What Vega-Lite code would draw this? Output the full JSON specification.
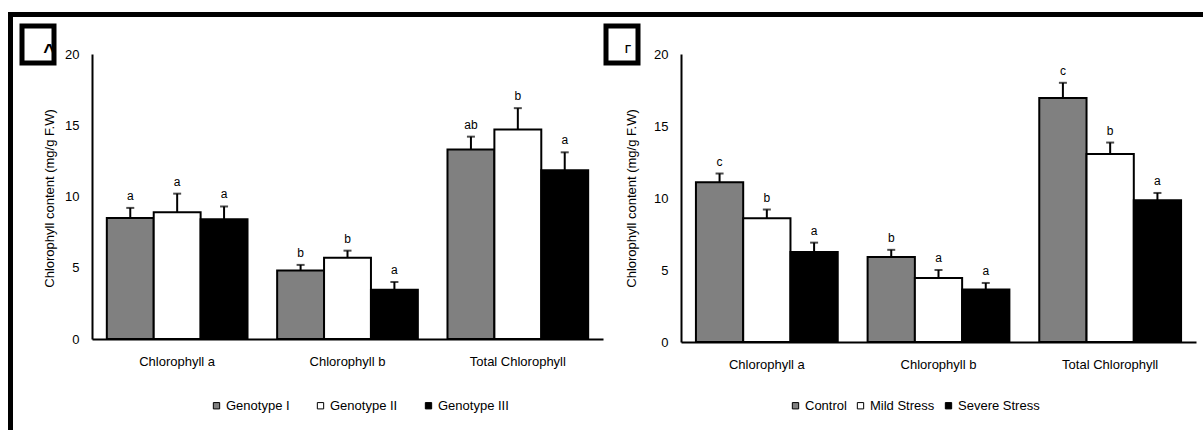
{
  "$schema": "https://vega.github.io/schema/vega-lite/v6.json",
  "background": "white",
  "padding": {"left": 8, "top": 12, "right": 0, "bottom": 0},
  "config": {
    "view": {"stroke": null},
    "font": "Liberation Sans",
    "text": {"color": "black"}
  },
  "spacing": 0,
  "resolve": {"scale": {"fill": "independent", "xOffset": "independent"}, "legend": {"fill": "independent"}},
  "hconcat": [
    {
      "width": 5, "height": 418,
      "view": {"fill": "black", "stroke": null},
      "data": {"values": []},
      "mark": "rect",
      "encoding": {}
    },
    {
      "spacing": 6,
      "resolve": {"scale": {"fill": "independent", "xOffset": "independent"}, "legend": {"fill": "independent"}},
      "vconcat": [
        {
          "width": 1190, "height": 5,
          "view": {"fill": "black", "stroke": null},
          "data": {"values": []},
          "mark": "rect",
          "encoding": {}
        },
        {
          "spacing": 0,
          "resolve": {"scale": {"fill": "independent", "xOffset": "independent"}, "legend": {"fill": "independent"}},
          "hconcat": [
            {"width": 6, "height": 1, "data": {"values": []}, "mark": "rect", "encoding": {}},
            {
              "spacing": 0,
              "vconcat": [
                {
                  "width": 32, "height": 37,
                  "view": {"stroke": "black", "strokeWidth": 5, "fill": "white"},
                  "data": {"values": [{"t": "^"}]},
                  "mark": {"type": "text", "fontSize": 20, "fontWeight": "bold", "dx": 11, "dy": 7, "color": "black"},
                  "encoding": {"text": {"field": "t"}}
                },
                {
                  "width": 37, "height": 265,
                  "data": {"values": [{"t": "Chlorophyll content (mg/g F.W)"}]},
                  "mark": {"type": "text", "angle": 270, "fontSize": 13, "dy": 9, "color": "black"},
                  "encoding": {"text": {"field": "t"}}
                }
              ]
            },
            {"width": 4.5, "height": 1, "data": {"values": []}, "mark": "rect", "encoding": {}},
            {
              "spacing": 0,
              "resolve": {"scale": {"fill": "independent", "xOffset": "independent"}, "legend": {"fill": "independent"}},
              "vconcat": [
                {"width": 1, "height": 22, "data": {"values": []}, "mark": "rect", "encoding": {}},
                {
                  "width": 511, "height": 285,
                  "data": {"values": [
                    {"pigment": "Chlorophyll a", "group": "Genotype I", "mean": 8.5, "hi": 9.2, "sig": "a"},
                    {"pigment": "Chlorophyll a", "group": "Genotype II", "mean": 8.9, "hi": 10.2, "sig": "a"},
                    {"pigment": "Chlorophyll a", "group": "Genotype III", "mean": 8.4, "hi": 9.3, "sig": "a"},
                    {"pigment": "Chlorophyll b", "group": "Genotype I", "mean": 4.8, "hi": 5.2, "sig": "b"},
                    {"pigment": "Chlorophyll b", "group": "Genotype II", "mean": 5.7, "hi": 6.2, "sig": "b"},
                    {"pigment": "Chlorophyll b", "group": "Genotype III", "mean": 3.45, "hi": 4.0, "sig": "a"},
                    {"pigment": "Total Chlorophyll", "group": "Genotype I", "mean": 13.3, "hi": 14.2, "sig": "ab"},
                    {"pigment": "Total Chlorophyll", "group": "Genotype II", "mean": 14.7, "hi": 16.2, "sig": "b"},
                    {"pigment": "Total Chlorophyll", "group": "Genotype III", "mean": 11.85, "hi": 13.1, "sig": "a"}
                  ]},
                  "encoding": {
                    "x": {
                      "field": "pigment", "type": "nominal",
                      "scale": {"type": "band", "domain": ["Chlorophyll a", "Chlorophyll b", "Total Chlorophyll"], "paddingInner": 0.174, "paddingOuter": 0.087},
                      "axis": {"title": null, "labelAngle": 0, "ticks": false, "labelPadding": 16, "labelFontSize": 13, "labelColor": "black", "domainColor": "black", "domainWidth": 2}
                    },
                    "xOffset": {
                      "field": "group", "type": "nominal",
                      "scale": {"type": "band", "domain": ["Genotype I", "Genotype II", "Genotype III"], "paddingInner": 0, "paddingOuter": 0}
                    }
                  },
                  "layer": [
                    {
                      "mark": {"type": "bar", "stroke": "black", "strokeWidth": 2},
                      "encoding": {
                        "y": {
                          "field": "mean", "type": "quantitative", "title": null,
                          "scale": {"domain": [0, 20]},
                          "axis": {"values": [0, 5, 10, 15, 20], "grid": false, "ticks": false, "labelPadding": 13, "labelFontSize": 13, "labelColor": "black", "domainColor": "black", "domainWidth": 2}
                        },
                        "fill": {
                          "field": "group", "type": "nominal",
                          "scale": {"domain": ["Genotype I", "Genotype II", "Genotype III"], "range": ["#808080", "#ffffff", "#000000"]},
                          "legend": {"orient": "none", "legendX": 118, "legendY": 345, "direction": "horizontal", "title": null, "symbolType": "square", "symbolSize": 40, "symbolStrokeColor": "black", "symbolStrokeWidth": 1, "labelFontSize": 13, "labelOffset": 3, "columnPadding": 24, "labelColor": "black"}
                        }
                      }
                    },
                    {
                      "mark": {"type": "rule", "strokeWidth": 2, "color": "black"},
                      "encoding": {
                        "y": {"field": "mean", "type": "quantitative", "title": null},
                        "y2": {"field": "hi"}
                      }
                    },
                    {
                      "mark": {"type": "tick", "size": 8, "thickness": 2, "color": "black"},
                      "encoding": {
                        "y": {"field": "hi", "type": "quantitative", "title": null}
                      }
                    },
                    {
                      "mark": {"type": "text", "dy": -8, "baseline": "alphabetic", "fontSize": 12, "color": "black"},
                      "encoding": {
                        "y": {"field": "hi", "type": "quantitative", "title": null},
                        "text": {"field": "sig"}
                      }
                    }
                  ]
                }
              ]
            },
            {
              "spacing": 0,
              "vconcat": [
                {
                  "width": 32, "height": 37,
                  "view": {"stroke": "black", "strokeWidth": 5, "fill": "white"},
                  "data": {"values": [{"t": "Γ"}]},
                  "mark": {"type": "text", "fontSize": 10, "fontWeight": "bold", "dx": 6, "dy": 5, "color": "black"},
                  "encoding": {"text": {"field": "t"}}
                },
                {
                  "width": 37, "height": 265,
                  "data": {"values": [{"t": "Chlorophyll content (mg/g F.W)"}]},
                  "mark": {"type": "text", "angle": 270, "fontSize": 13, "dy": 7, "color": "black"},
                  "encoding": {"text": {"field": "t"}}
                }
              ]
            },
            {"width": 9.5, "height": 1, "data": {"values": []}, "mark": "rect", "encoding": {}},
            {
              "spacing": 0,
              "resolve": {"scale": {"fill": "independent", "xOffset": "independent"}, "legend": {"fill": "independent"}},
              "vconcat": [
                {"width": 1, "height": 22, "data": {"values": []}, "mark": "rect", "encoding": {}},
                {
                  "width": 515, "height": 288,
                  "data": {"values": [
                    {"pigment": "Chlorophyll a", "group": "Control", "mean": 11.1, "hi": 11.7, "sig": "c"},
                    {"pigment": "Chlorophyll a", "group": "Mild Stress", "mean": 8.6, "hi": 9.2, "sig": "b"},
                    {"pigment": "Chlorophyll a", "group": "Severe Stress", "mean": 6.25, "hi": 6.9, "sig": "a"},
                    {"pigment": "Chlorophyll b", "group": "Control", "mean": 5.9, "hi": 6.4, "sig": "b"},
                    {"pigment": "Chlorophyll b", "group": "Mild Stress", "mean": 4.45, "hi": 5.0, "sig": "a"},
                    {"pigment": "Chlorophyll b", "group": "Severe Stress", "mean": 3.65, "hi": 4.1, "sig": "a"},
                    {"pigment": "Total Chlorophyll", "group": "Control", "mean": 16.95, "hi": 18.0, "sig": "c"},
                    {"pigment": "Total Chlorophyll", "group": "Mild Stress", "mean": 13.05, "hi": 13.85, "sig": "b"},
                    {"pigment": "Total Chlorophyll", "group": "Severe Stress", "mean": 9.85, "hi": 10.35, "sig": "a"}
                  ]},
                  "encoding": {
                    "x": {
                      "field": "pigment", "type": "nominal",
                      "scale": {"type": "band", "domain": ["Chlorophyll a", "Chlorophyll b", "Total Chlorophyll"], "paddingInner": 0.174, "paddingOuter": 0.087},
                      "axis": {"title": null, "labelAngle": 0, "ticks": false, "labelPadding": 16, "labelFontSize": 13, "labelColor": "black", "domainColor": "black", "domainWidth": 2}
                    },
                    "xOffset": {
                      "field": "group", "type": "nominal",
                      "scale": {"type": "band", "domain": ["Control", "Mild Stress", "Severe Stress"], "paddingInner": 0, "paddingOuter": 0}
                    }
                  },
                  "layer": [
                    {
                      "mark": {"type": "bar", "stroke": "black", "strokeWidth": 2},
                      "encoding": {
                        "y": {
                          "field": "mean", "type": "quantitative", "title": null,
                          "scale": {"domain": [0, 20]},
                          "axis": {"values": [0, 5, 10, 15, 20], "grid": false, "ticks": false, "labelPadding": 13, "labelFontSize": 13, "labelColor": "black", "domainColor": "black", "domainWidth": 2}
                        },
                        "fill": {
                          "field": "group", "type": "nominal",
                          "scale": {"domain": ["Control", "Mild Stress", "Severe Stress"], "range": ["#808080", "#ffffff", "#000000"]},
                          "legend": {"orient": "none", "legendX": 108, "legendY": 345, "direction": "horizontal", "title": null, "symbolType": "square", "symbolSize": 40, "symbolStrokeColor": "black", "symbolStrokeWidth": 1, "labelFontSize": 13, "labelOffset": 3, "columnPadding": 7, "labelColor": "black"}
                        }
                      }
                    },
                    {
                      "mark": {"type": "rule", "strokeWidth": 2, "color": "black"},
                      "encoding": {
                        "y": {"field": "mean", "type": "quantitative", "title": null},
                        "y2": {"field": "hi"}
                      }
                    },
                    {
                      "mark": {"type": "tick", "size": 8, "thickness": 2, "color": "black"},
                      "encoding": {
                        "y": {"field": "hi", "type": "quantitative", "title": null}
                      }
                    },
                    {
                      "mark": {"type": "text", "dy": -8, "baseline": "alphabetic", "fontSize": 12, "color": "black"},
                      "encoding": {
                        "y": {"field": "hi", "type": "quantitative", "title": null},
                        "text": {"field": "sig"}
                      }
                    }
                  ]
                }
              ]
            }
          ]
        }
      ]
    }
  ]
}
